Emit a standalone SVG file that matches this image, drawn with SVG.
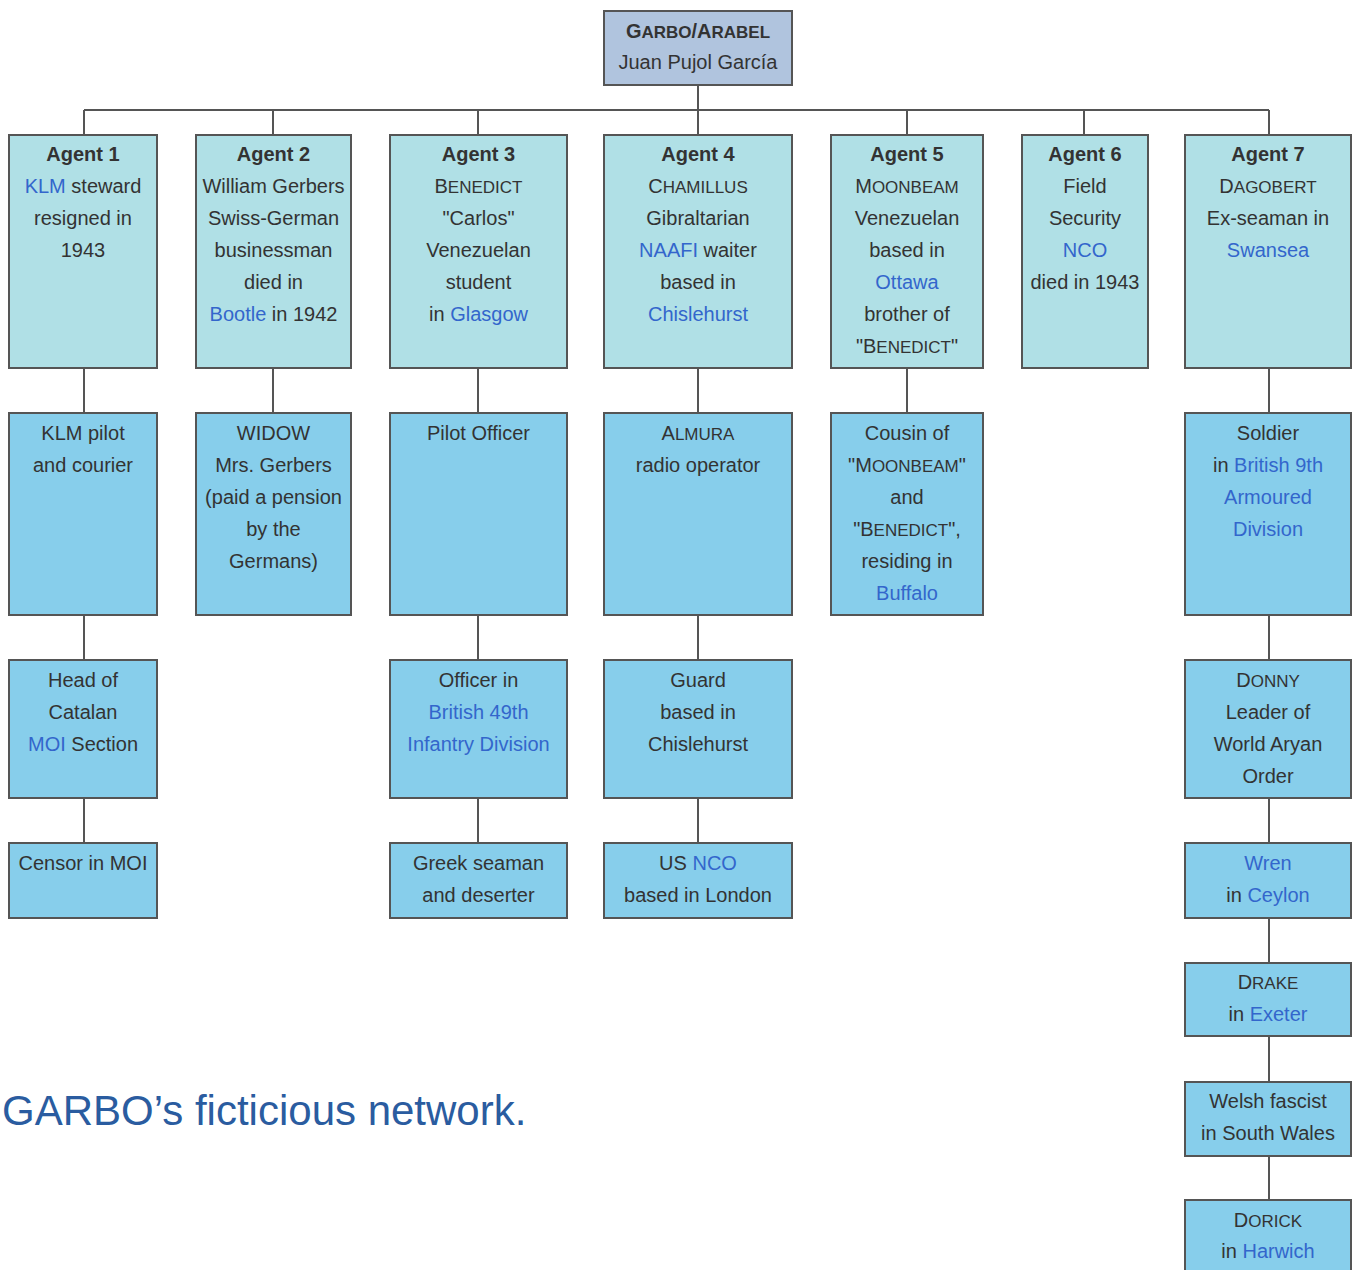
<svg xmlns="http://www.w3.org/2000/svg" width="1357" height="1270" viewBox="0 0 1357 1270">
<style>
text{font-family:"Liberation Sans",Arial,sans-serif;font-size:20px;fill:#333;text-anchor:middle}
.b{font-weight:bold}
.l{fill:#3366cc}
.sc{font-size:17px}
.box{stroke:#555;stroke-width:2}
.top{fill:#b0c4de}
.ag{fill:#b0e0e6}
.sub{fill:#87ceeb}
.con{stroke:#555;stroke-width:2;fill:none}
.title{font-size:42px;fill:#2a5ca0;text-anchor:start}
</style>
<rect width="1357" height="1270" fill="#fff"/>
<g id="connectors" class="con">
<path d="M698 85V110M84 110H1269M84 110V135M273 110V135M478 110V135M698 110V135M907 110V135M1084 110V135M1269 110V135"/>
<path d="M84 368V413M273 368V413M478 368V413M698 368V413M907 368V413M1269 368V413"/>
<path d="M84 615V660M478 615V660M698 615V660M1269 615V660"/>
<path d="M84 798V843M478 798V843M698 798V843M1269 798V843"/>
<path d="M1269 918V963M1269 1036V1082M1269 1156V1200"/>
</g>
<g id="garbo"><rect class="box top" x="604" y="11" width="188" height="74"/>
<text x="698" y="38" class="b">G<tspan class="sc">ARBO</tspan>/A<tspan class="sc">RABEL</tspan></text>
<text x="698" y="69">Juan Pujol García</text></g>
<g id="agent1"><rect class="box ag" x="9" y="135" width="148" height="233"/>
<text x="83" y="161" class="b">Agent 1</text>
<text x="83" y="193"><tspan class="l">KLM</tspan> steward</text>
<text x="83" y="225">resigned in</text>
<text x="83" y="257">1943</text></g>
<g id="agent2"><rect class="box ag" x="196" y="135" width="155" height="233"/>
<text x="273.5" y="161" class="b">Agent 2</text>
<text x="273.5" y="193">William Gerbers</text>
<text x="273.5" y="225">Swiss-German</text>
<text x="273.5" y="257">businessman</text>
<text x="273.5" y="289">died in</text>
<text x="273.5" y="321"><tspan class="l">Bootle</tspan> in 1942</text></g>
<g id="agent3"><rect class="box ag" x="390" y="135" width="177" height="233"/>
<text x="478.5" y="161" class="b">Agent 3</text>
<text x="478.5" y="193">B<tspan class="sc">ENEDICT</tspan></text>
<text x="478.5" y="225">"Carlos"</text>
<text x="478.5" y="257">Venezuelan</text>
<text x="478.5" y="289">student</text>
<text x="478.5" y="321">in <tspan class="l">Glasgow</tspan></text></g>
<g id="agent4"><rect class="box ag" x="604" y="135" width="188" height="233"/>
<text x="698" y="161" class="b">Agent 4</text>
<text x="698" y="193">C<tspan class="sc">HAMILLUS</tspan></text>
<text x="698" y="225">Gibraltarian</text>
<text x="698" y="257"><tspan class="l">NAAFI</tspan> waiter</text>
<text x="698" y="289">based in</text>
<text x="698" y="321" class="l">Chislehurst</text></g>
<g id="agent5"><rect class="box ag" x="831" y="135" width="152" height="233"/>
<text x="907" y="161" class="b">Agent 5</text>
<text x="907" y="193">M<tspan class="sc">OONBEAM</tspan></text>
<text x="907" y="225">Venezuelan</text>
<text x="907" y="257">based in</text>
<text x="907" y="289" class="l">Ottawa</text>
<text x="907" y="321">brother of</text>
<text x="907" y="353">"B<tspan class="sc">ENEDICT</tspan>"</text></g>
<g id="agent6"><rect class="box ag" x="1022" y="135" width="126" height="233"/>
<text x="1085" y="161" class="b">Agent 6</text>
<text x="1085" y="193">Field</text>
<text x="1085" y="225">Security</text>
<text x="1085" y="257" class="l">NCO</text>
<text x="1085" y="289">died in 1943</text></g>
<g id="agent7"><rect class="box ag" x="1185" y="135" width="166" height="233"/>
<text x="1268" y="161" class="b">Agent 7</text>
<text x="1268" y="193">D<tspan class="sc">AGOBERT</tspan></text>
<text x="1268" y="225">Ex-seaman in</text>
<text x="1268" y="257" class="l">Swansea</text></g>
<g id="klmpilot"><rect class="box sub" x="9" y="413" width="148" height="202"/>
<text x="83" y="440">KLM pilot</text>
<text x="83" y="472">and courier</text></g>
<g id="widow"><rect class="box sub" x="196" y="413" width="155" height="202"/>
<text x="273.5" y="440">WIDOW</text>
<text x="273.5" y="472">Mrs. Gerbers</text>
<text x="273.5" y="504">(paid a pension</text>
<text x="273.5" y="536">by the</text>
<text x="273.5" y="568">Germans)</text></g>
<g id="pilotofficer"><rect class="box sub" x="390" y="413" width="177" height="202"/>
<text x="478.5" y="440">Pilot Officer</text></g>
<g id="almura"><rect class="box sub" x="604" y="413" width="188" height="202"/>
<text x="698" y="440">A<tspan class="sc">LMURA</tspan></text>
<text x="698" y="472">radio operator</text></g>
<g id="cousin"><rect class="box sub" x="831" y="413" width="152" height="202"/>
<text x="907" y="440">Cousin of</text>
<text x="907" y="472">"M<tspan class="sc">OONBEAM</tspan>"</text>
<text x="907" y="504">and</text>
<text x="907" y="536">"B<tspan class="sc">ENEDICT</tspan>",</text>
<text x="907" y="568">residing in</text>
<text x="907" y="600" class="l">Buffalo</text></g>
<g id="soldier"><rect class="box sub" x="1185" y="413" width="166" height="202"/>
<text x="1268" y="440">Soldier</text>
<text x="1268" y="472">in <tspan class="l">British 9th</tspan></text>
<text x="1268" y="504" class="l">Armoured</text>
<text x="1268" y="536" class="l">Division</text></g>
<g id="headcatalan"><rect class="box sub" x="9" y="660" width="148" height="138"/>
<text x="83" y="687">Head of</text>
<text x="83" y="719">Catalan</text>
<text x="83" y="751"><tspan class="l">MOI</tspan> Section</text></g>
<g id="officer49"><rect class="box sub" x="390" y="660" width="177" height="138"/>
<text x="478.5" y="687">Officer in</text>
<text x="478.5" y="719" class="l">British 49th</text>
<text x="478.5" y="751" class="l">Infantry Division</text></g>
<g id="guard"><rect class="box sub" x="604" y="660" width="188" height="138"/>
<text x="698" y="687">Guard</text>
<text x="698" y="719">based in</text>
<text x="698" y="751">Chislehurst</text></g>
<g id="donny"><rect class="box sub" x="1185" y="660" width="166" height="138"/>
<text x="1268" y="687">D<tspan class="sc">ONNY</tspan></text>
<text x="1268" y="719">Leader of</text>
<text x="1268" y="751">World Aryan</text>
<text x="1268" y="783">Order</text></g>
<g id="censor"><rect class="box sub" x="9" y="843" width="148" height="75"/>
<text x="83" y="870">Censor in MOI</text></g>
<g id="greek"><rect class="box sub" x="390" y="843" width="177" height="75"/>
<text x="478.5" y="870">Greek seaman</text>
<text x="478.5" y="902">and deserter</text></g>
<g id="usnco"><rect class="box sub" x="604" y="843" width="188" height="75"/>
<text x="698" y="870">US <tspan class="l">NCO</tspan></text>
<text x="698" y="902">based in London</text></g>
<g id="wren"><rect class="box sub" x="1185" y="843" width="166" height="75"/>
<text x="1268" y="870" class="l">Wren</text>
<text x="1268" y="902">in <tspan class="l">Ceylon</tspan></text></g>
<g id="drake"><rect class="box sub" x="1185" y="963" width="166" height="73"/>
<text x="1268" y="989">D<tspan class="sc">RAKE</tspan></text>
<text x="1268" y="1021">in <tspan class="l">Exeter</tspan></text></g>
<g id="welsh"><rect class="box sub" x="1185" y="1082" width="166" height="74"/>
<text x="1268" y="1108">Welsh fascist</text>
<text x="1268" y="1140">in South Wales</text></g>
<g id="dorick"><rect class="box sub" x="1185" y="1200" width="166" height="76"/>
<text x="1268" y="1227">D<tspan class="sc">ORICK</tspan></text>
<text x="1268" y="1258">in <tspan class="l">Harwich</tspan></text></g>
<text class="title" x="2" y="1125">GARBO’s ficticious network.</text>
</svg>
